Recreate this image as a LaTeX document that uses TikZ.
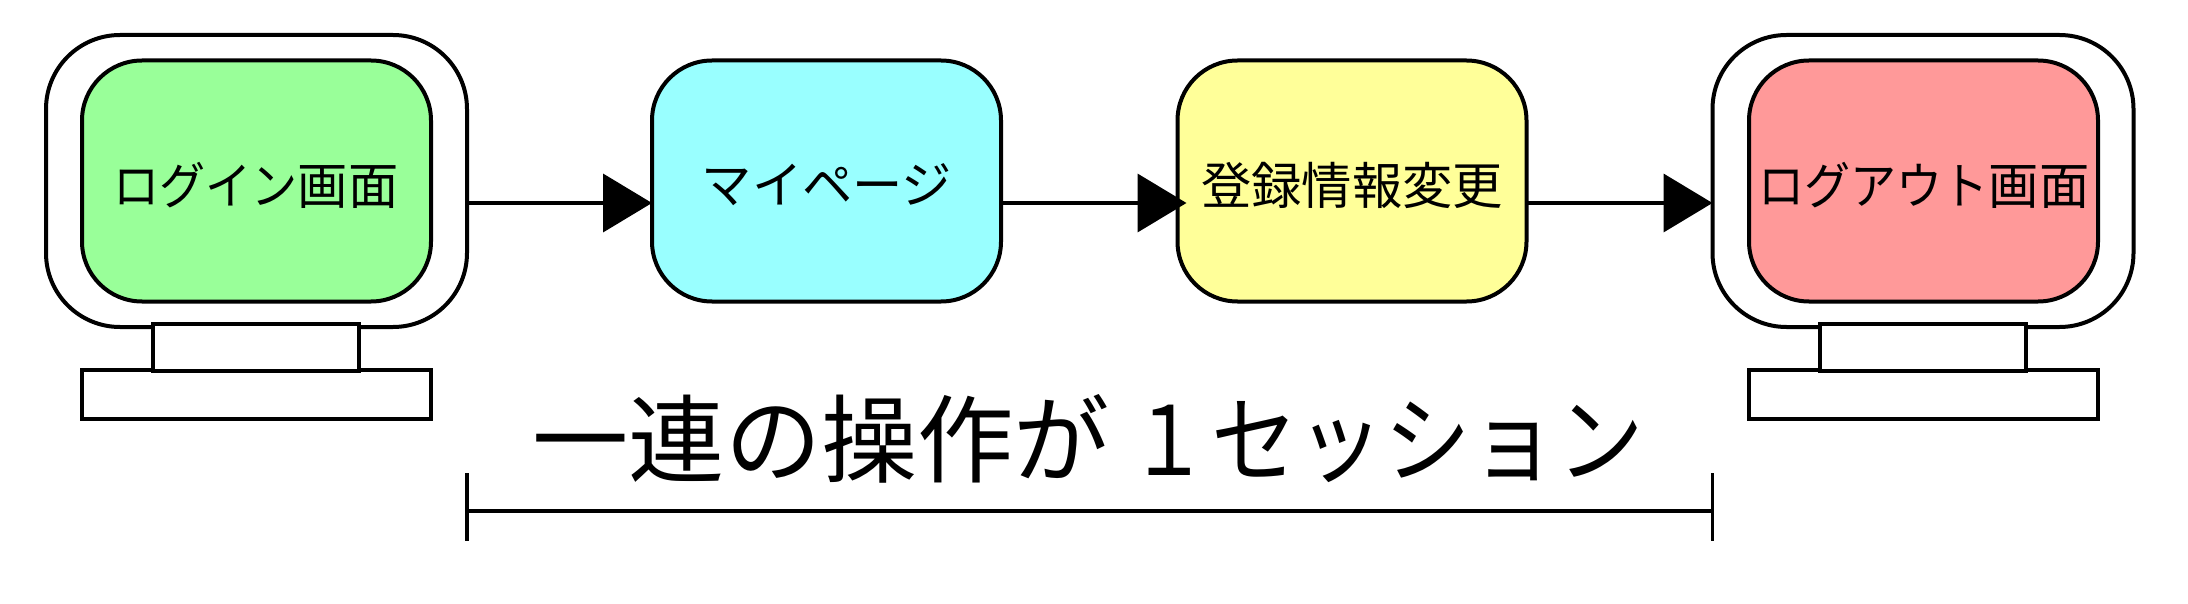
\documentclass[tikz,border=0pt]{standalone}
\usepackage{fontspec}
\setmainfont{Noto Sans CJK JP}
\usetikzlibrary{arrows.meta}
\definecolor{cgreen}{HTML}{99FF99}
\definecolor{cblue}{HTML}{99FFFF}
\definecolor{cyellow}{HTML}{FFFF99}
\definecolor{cred}{HTML}{FF9999}
\newcommand{\kn}[1]{\scalebox{0.98}[1.07]{#1}}
\newcommand{\kj}[1]{\scalebox{1.07}[1.07]{#1}}
\tikzset{
  line/.style={draw=black,line width=4pt},
  frame/.style={line,fill=white,rounded corners=74pt,minimum width=421pt,minimum height=292pt,inner sep=0pt,outer sep=0pt},
  screen/.style={line,rounded corners=60pt,minimum width=349pt,minimum height=241pt,inner sep=0pt,outer sep=0pt},
  label/.style={inner sep=0pt,font=\fontsize{47}{47}\selectfont},
  neck/.style={line,fill=white,minimum width=206pt,minimum height=47pt,inner sep=0pt,outer sep=0pt},
  foot/.style={line,fill=white,minimum width=349pt,minimum height=49pt,inner sep=0pt,outer sep=0pt},
  flow/.style={line,-{Triangle[length=49pt,width=58pt]}},
  tick/.style={draw=black,line width=3.2pt},
}
\begin{document}
\begin{tikzpicture}[x=1pt,y=-1pt]
\useasboundingbox (0,0) rectangle (2188,604);
% left monitor
\node[foot] (foot1) at (256.5,394.5) {};
\node[frame] (frame1) at (256.5,181) {};
\node[neck] (neck1) at (256,347) {};
\node[screen,fill=cgreen] (login) at (256.5,181) {};
\node[label] (loginT) at (256,185) {\kn{ログイン}\kj{画面}};
% middle screens
\node[screen,fill=cblue] (mypage) at (826.5,181) {};
\node[label] (mypageT) at (827,185) {\scalebox{1.07}[1.07]{マイページ}};
\node[screen,fill=cyellow] (edit) at (1352,181) {};
\node[label] (editT) at (1352,185) {\kj{登録情報変更}};
% right monitor
\node[foot] (foot2) at (1923.5,394.5) {};
\node[frame] (frame2) at (1923,181) {};
\node[neck] (neck2) at (1923,347) {};
\node[screen,fill=cred] (logout) at (1923.5,181) {};
\node[label] (logoutT) at (1924,185) {\kn{ログアウト}\kj{画面}};
% connectors
\draw[flow] (frame1.east |- 0,203) -- (mypage.west |- 0,203);
\draw[flow] (mypage.east |- 0,203) -- ([xshift=9pt]edit.west |- 0,203);
\draw[flow] (edit.east |- 0,203) -- (frame2.west |- 0,203);
% span
\coordinate (sl) at (frame1.east |- 0,511);
\coordinate (sr) at (frame2.west |- 0,511);
\draw[line] (sl) -- (sr);
\draw[tick] ([yshift=38pt]sl) -- ([yshift=-30pt]sl);
\draw[tick] ([yshift=38pt]sr) -- ([yshift=-30pt]sr);
\node[inner sep=0pt,font=\fontsize{93}{93}\selectfont] (caption) at (1088,439)
  {\scalebox{1.035}[1.03]{一連の操作が}\hspace{19pt}\scalebox{0.85}[1.03]{１}\hspace{3pt}\scalebox{0.93}[1.03]{セッション}};
\end{tikzpicture}
\end{document}
